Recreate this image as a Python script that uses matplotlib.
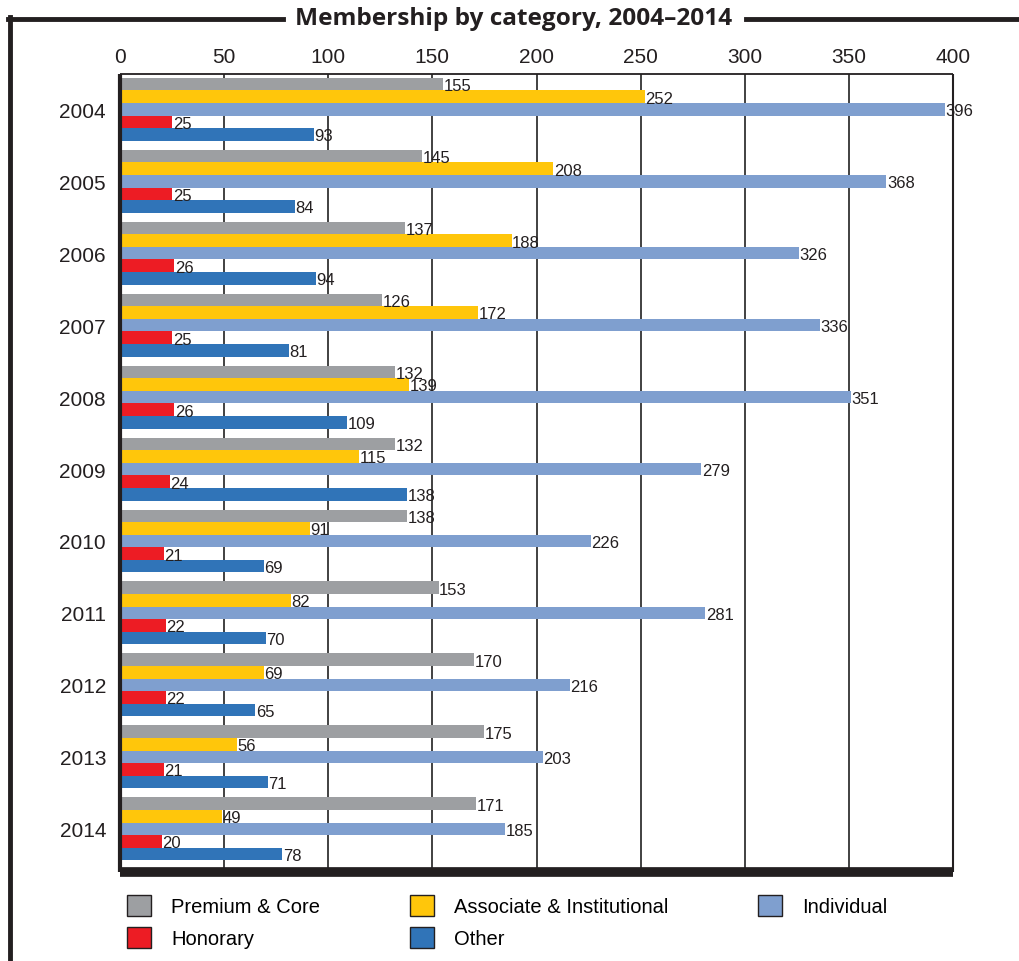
import numpy as np
import matplotlib.pyplot as plt
from matplotlib.patches import Patch
from matplotlib.lines import Line2D

years = ['2004', '2005', '2006', '2007', '2008', '2009', '2010', '2011', '2012', '2013', '2014']
premium = [155, 145, 137, 126, 132, 132, 138, 153, 170, 175, 171]
associate = [252, 208, 188, 172, 139, 115, 91, 82, 69, 56, 49]
individual = [396, 368, 326, 336, 351, 279, 226, 281, 216, 203, 185]
honorary = [25, 25, 26, 25, 26, 24, 21, 22, 22, 21, 20]
other = [93, 84, 94, 81, 109, 138, 69, 70, 65, 71, 78]

series = [
    ('Premium & Core', premium, '#9d9fa2'),
    ('Associate & Institutional', associate, '#ffc60b'),
    ('Individual', individual, '#7f9fcf'),
    ('Honorary', honorary, '#ed1c24'),
    ('Other', other, '#3074b8'),
]

plt.rcParams['font.family'] = ['Liberation Sans', 'DejaVu Sans']
dark = '#231f20'

fig = plt.figure(figsize=(10.19, 9.62), dpi=100)
ax = fig.add_axes([120 / 1019, 1 - 873 / 962, 833 / 1019, 798 / 962])

y = np.arange(len(years))
h = 0.175
for k, (name, vals, col) in enumerate(series):
    pos = y + (k - 2) * h
    ax.barh(pos, vals, height=h, color=col, zorder=3)
    for p, v in zip(pos, vals):
        ax.text(v + 0.3, p + 0.02, str(v), va='center', ha='left', fontsize=12, color=dark, zorder=4)

ax.set_xlim(0, 400)
ax.set_ylim(10.6, -0.49)
ax.set_xticks(np.arange(0, 401, 50))
ax.xaxis.tick_top()
ax.tick_params(axis='x', length=0, pad=6, labelsize=15, colors=dark)
ax.set_yticks(y)
ax.set_yticklabels(years)
ax.tick_params(axis='y', length=0, pad=10, labelsize=15, colors=dark)
ax.grid(axis='x', color='#333333', linewidth=1.3, zorder=0)

ax.spines['left'].set_linewidth(3)
ax.spines['bottom'].set_linewidth(7)
ax.spines['top'].set_linewidth(1.3)
ax.spines['right'].set_linewidth(1.5)
for s in ax.spines.values():
    s.set_color(dark)
    s.set_zorder(5)
    s.set_capstyle('butt')

# outer frame and title
fig.add_artist(Line2D([9.5 / 1019, 9.5 / 1019], [0, 1 - 18 / 962], color=dark, lw=3.5))
fig.add_artist(Line2D([8 / 1019, 283 / 1019], [1 - 20 / 962, 1 - 20 / 962], color=dark, lw=3.5))
fig.add_artist(Line2D([746 / 1019, 1], [1 - 20 / 962, 1 - 20 / 962], color=dark, lw=3.5))
fig.text(514 / 1019, 1 - 19 / 962, 'Membership by category, 2004\u20132014', ha='center', va='center',
         fontsize=17.6, fontweight='bold', family=['Open Sans', 'DejaVu Sans'], color=dark)

handles = {name: Patch(facecolor=col, edgecolor=dark, linewidth=1) for name, vals, col in series}
order = ['Premium & Core', 'Honorary', 'Associate & Institutional', 'Other', 'Individual']
fig.legend([handles[n] for n in order], order, ncol=3, loc='upper left',
           bbox_to_anchor=(127 / 1019, 1 - 896 / 962), frameon=False, fontsize=14.5,
           handlelength=1.2, handleheight=1.2, handletextpad=1.0, columnspacing=4.45,
           labelspacing=0.55, borderaxespad=0, borderpad=0)

fig.savefig('out.png', dpi=100)
